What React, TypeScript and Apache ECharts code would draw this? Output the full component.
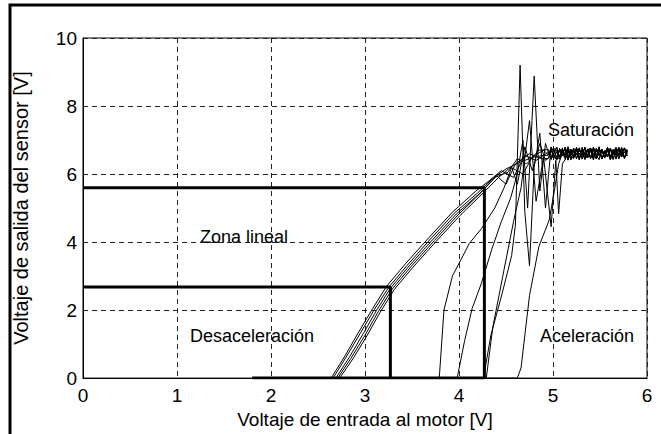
import React, { useEffect, useRef } from "react";
import * as echarts from "echarts";

const X_TICKS = [0, 1, 2, 3, 4, 5, 6];
const Y_TICKS = [0, 2, 4, 6, 8, 10];

const SAT_X = [4.95, 4.98, 5.01, 5.04, 5.07, 5.1, 5.13, 5.16, 5.19, 5.22, 5.25, 5.28, 5.31, 5.34, 5.37, 5.4, 5.43, 5.46, 5.49, 5.52, 5.55, 5.58, 5.61, 5.64, 5.67, 5.7, 5.73, 5.76, 5.79];
const SAT_1 = [6.55, 6.74, 6.46, 6.71, 6.5, 6.77, 6.43, 6.68, 6.56, 6.76, 6.45, 6.72, 6.51, 6.79, 6.48, 6.7, 6.42, 6.75, 6.54, 6.73, 6.47, 6.78, 6.52, 6.68, 6.44, 6.74, 6.56, 6.77, 6.6];
const SAT_2 = [6.72, 6.48, 6.76, 6.44, 6.7, 6.53, 6.79, 6.47, 6.73, 6.5, 6.71, 6.42, 6.78, 6.55, 6.74, 6.46, 6.72, 6.51, 6.8, 6.45, 6.69, 6.53, 6.75, 6.43, 6.72, 6.56, 6.78, 6.48, 6.7];
const SAT_3 = [6.46, 6.68, 6.56, 6.41, 6.75, 6.59, 6.48, 6.72, 6.42, 6.69, 6.57, 6.77, 6.44, 6.65, 6.73, 6.47, 6.79, 6.55, 6.43, 6.7, 6.6, 6.5, 6.76, 6.56, 6.71, 6.45, 6.66, 6.74, 6.53];
const SAT_4 = [6.64, 6.43, 6.62, 6.79, 6.49, 6.66, 6.72, 6.41, 6.68, 6.53, 6.78, 6.48, 6.63, 6.46, 6.71, 6.76, 6.5, 6.67, 6.74, 6.44, 6.62, 6.77, 6.47, 6.72, 6.55, 6.79, 6.5, 6.65, 6.72];
const SAT_5 = [6.56, 6.78, 6.5, 6.65, 6.44, 6.73, 6.55, 6.8, 6.52, 6.46, 6.74, 6.58, 6.7, 6.43, 6.57, 6.75, 6.6, 6.45, 6.72, 6.66, 6.51, 6.7, 6.42, 6.64, 6.78, 6.53, 6.73, 6.46, 6.68];

// Deceleration (rising part) curves
const DEC_1 = [[1.8, 0], [2.66, 0], [2.8, 0.62], [2.95, 1.32], [3.1, 2.02], [3.25, 2.66], [3.45, 3.32], [3.7, 4.1], [3.95, 4.85], [4.2, 5.45], [4.35, 5.85], [4.5, 6.15], [4.65, 6.35], [4.8, 6.5], [4.9, 6.55]];
const DEC_2 = [[1.8, 0], [2.69, 0], [2.83, 0.6], [2.98, 1.3], [3.12, 1.98], [3.27, 2.64], [3.47, 3.3], [3.72, 4.07], [3.97, 4.82], [4.22, 5.43], [4.38, 5.9], [4.52, 6.05], [4.62, 6.45], [4.72, 6.3], [4.85, 6.7]];
const DEC_3 = [[1.8, 0], [2.71, 0], [2.85, 0.58], [3.0, 1.26], [3.14, 1.95], [3.29, 2.62], [3.49, 3.28], [3.74, 4.05], [3.99, 4.8], [4.24, 5.47], [4.4, 5.95], [4.5, 5.7], [4.6, 6.3], [4.75, 6.6], [4.88, 6.45]];
const DEC_4 = [[1.8, 0], [2.64, 0], [2.78, 0.62], [2.93, 1.34], [3.08, 2.04], [3.23, 2.7], [3.43, 3.36], [3.68, 4.13], [3.93, 4.88], [4.18, 5.5], [4.32, 5.8], [4.45, 6.1], [4.58, 5.9], [4.7, 6.55], [4.82, 6.4]];
const DEC_5 = [[1.8, 0], [2.73, 0], [2.87, 0.56], [3.02, 1.24], [3.16, 1.93], [3.31, 2.6], [3.51, 3.26], [3.76, 4.03], [4.01, 4.78], [4.26, 5.45], [4.42, 5.9], [4.55, 6.2], [4.68, 6.0], [4.78, 6.5], [4.9, 6.7]];

// Acceleration curves
const ACC_1 = [[3.0, 0], [3.79, 0], [3.84, 2.0], [3.93, 3.0], [4.11, 3.96], [4.24, 4.4], [4.38, 5.0], [4.48, 5.6], [4.56, 6.2], [4.62, 5.7], [4.7, 6.8], [4.78, 6.1], [4.86, 6.9], [4.92, 6.4]];
const ACC_2 = [[3.0, 0], [3.98, 0], [4.06, 1.1], [4.14, 2.05], [4.24, 2.8], [4.35, 3.8], [4.45, 4.6], [4.55, 5.3], [4.62, 6.0], [4.68, 7.0], [4.73, 5.0], [4.8, 8.88], [4.86, 5.5], [4.92, 6.9]];
const ACC_3 = [[3.0, 0], [4.26, 0], [4.34, 1.27], [4.46, 2.5], [4.56, 3.6], [4.6, 4.5], [4.65, 9.2], [4.7, 4.9], [4.75, 3.3], [4.8, 6.2], [4.86, 7.2], [4.92, 5.0], [4.98, 6.8], [5.04, 6.5]];
const ACC_4 = [[4.29, 0], [4.36, 1.5], [4.48, 3.2], [4.58, 4.6], [4.66, 5.6], [4.75, 7.57], [4.82, 5.2], [4.9, 6.5], [4.98, 4.45], [5.03, 6.4], [5.06, 4.83], [5.1, 6.3]];
const ACC_5 = [[3.0, 0], [4.62, 0], [4.66, 0.3], [4.75, 2.43], [4.85, 3.87], [4.96, 4.65], [5.02, 5.6], [5.06, 6.3], [5.1, 6.6]];

// Thick reference lines
const THICK_HIGH = [[0, 5.6], [4.27, 5.6], [4.27, 0]];
const THICK_LOW = [[0, 2.68], [3.27, 2.68], [3.27, 0]];
const THICK_BASE = [[1.8, 0], [4.27, 0]];

const CURVES: [number[][], number[], number][] = [
  [DEC_1, SAT_1, 0],
  [DEC_2, SAT_2, 0],
  [DEC_3, SAT_3, 0],
  [DEC_4, SAT_4, 0],
  [DEC_5, SAT_5, 0],
  [ACC_1, SAT_3, 0],
  [ACC_2, SAT_4, 0],
  [ACC_3, SAT_5, 4],
  [ACC_4, SAT_1, 6],
  [ACC_5, SAT_2, 6],
];

const FONT = '"Liberation Sans", Arial, Helvetica, sans-serif';

export default function App() {
  const ref = useRef<HTMLDivElement>(null);
  useEffect(() => {
    document.body.style.margin = "0";
    const chart = echarts.init(ref.current!, null, { renderer: "svg" });
    const thin = CURVES.map(([rise, sat, start]) => ({
      type: "line",
      data: rise.concat(SAT_X.slice(start).map((x, i) => [x, sat[start + i]])),
      showSymbol: false,
      silent: true,
      lineStyle: { color: "#000", width: 1 },
    }));
    const thick = [THICK_HIGH, THICK_LOW, THICK_BASE].map((d) => ({
      type: "line",
      data: d,
      showSymbol: false,
      silent: true,
      lineStyle: { color: "#000", width: 3 },
    }));
    chart.setOption({
      animation: false,
      backgroundColor: "#fff",
      textStyle: { fontFamily: FONT },
      grid: { left: 83, top: 38, width: 564, height: 346, show: true, borderColor: "#000", borderWidth: 1, backgroundColor: "transparent" },
      xAxis: {
        type: "value",
        min: X_TICKS[0],
        max: X_TICKS[X_TICKS.length - 1],
        interval: 1,
        name: "Voltaje de entrada al motor [V]",
        nameLocation: "middle",
        nameGap: 24,
        nameTextStyle: { color: "#000", fontSize: 19, fontFamily: FONT, verticalAlign: "top" },
        axisLine: { show: true, lineStyle: { color: "#000", width: 1 } },
        axisTick: { show: false },
        axisLabel: { color: "#000", fontSize: 19, fontFamily: FONT, margin: 8 },
        splitLine: { show: true, lineStyle: { color: "#222", type: [5, 4], width: 1 } },
      },
      yAxis: {
        type: "value",
        min: Y_TICKS[0],
        max: Y_TICKS[Y_TICKS.length - 1],
        interval: 2,
        name: "Voltaje de salida del sensor [V]",
        nameLocation: "middle",
        nameGap: 52,
        nameTextStyle: { color: "#000", fontSize: 20, fontFamily: FONT },
        axisLine: { show: true, lineStyle: { color: "#000", width: 1 } },
        axisTick: { show: false },
        axisLabel: { color: "#000", fontSize: 19, fontFamily: FONT, margin: 6 },
        splitLine: { show: true, lineStyle: { color: "#222", type: [5, 4], width: 1 } },
      },
      series: [...thin, ...thick],
      graphic: [
        { type: "rect", shape: { x: 10, y: 5, width: 800, height: 600 }, style: { fill: "none", stroke: "#000", lineWidth: 3 }, silent: true },
        { type: "text", style: { text: "Saturación", x: 548, y: 130, fill: "#000", font: `18px ${FONT}`, textAlign: "left", textVerticalAlign: "middle" } },
        { type: "text", style: { text: "Zona lineal", x: 200, y: 237, fill: "#000", font: `18px ${FONT}`, textAlign: "left", textVerticalAlign: "middle" } },
        { type: "text", style: { text: "Desaceleración", x: 190, y: 336, fill: "#000", font: `18px ${FONT}`, textAlign: "left", textVerticalAlign: "middle" } },
        { type: "text", style: { text: "Aceleración", x: 540, y: 336, fill: "#000", font: `18px ${FONT}`, textAlign: "left", textVerticalAlign: "middle" } },
      ],
    });
    return () => chart.dispose();
  }, []);
  return (
    <div style={{ position: "fixed", left: 0, top: 0, width: 661, height: 434, background: "#fff" }}>
      <div ref={ref} style={{ width: 661, height: 434 }} />
    </div>
  );
}
